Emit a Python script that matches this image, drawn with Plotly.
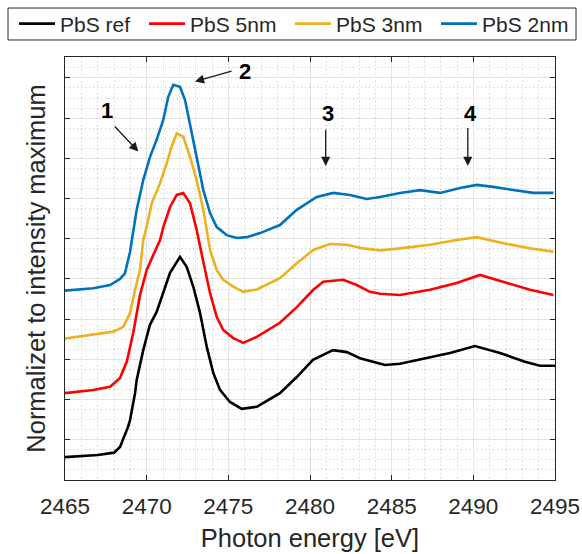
import plotly.graph_objects as go

# Photon energy [eV] and normalized intensity (offset-stacked, arbitrary units)
ref_x = [2465.0, 2467.0, 2468.0, 2468.37, 2468.86, 2468.98, 2469.29, 2469.39, 2469.79, 2470.20,
         2470.61, 2471.02, 2471.43, 2472.04, 2472.45, 2472.86, 2473.27, 2473.68, 2474.08, 2474.49,
         2475.10, 2475.82, 2476.74, 2476.94, 2478.16, 2479.19, 2480.18, 2481.41, 2482.25, 2483.06,
         2484.08, 2484.59, 2485.51, 2486.73, 2488.57, 2490.10, 2491.63, 2493.16, 2494.08, 2495.0]
ref_y = [0.57, 0.62, 0.68, 0.82, 1.32, 1.49, 2.16, 2.49, 3.23, 3.86,
         4.18, 4.65, 5.15, 5.55, 5.30, 4.80, 4.15, 3.31, 2.66, 2.24,
         1.94, 1.77, 1.82, 1.87, 2.16, 2.56, 2.99, 3.23, 3.18, 3.03,
         2.91, 2.86, 2.89, 2.99, 3.16, 3.33, 3.16, 2.94, 2.84, 2.84]

nm5_x = [2465.00, 2466.73, 2467.76, 2468.37, 2468.78, 2469.18, 2469.59, 2470.00, 2470.41, 2470.82,
         2471.02, 2471.43, 2471.84, 2472.24, 2472.65, 2473.06, 2473.47, 2473.88, 2474.29, 2474.69,
         2475.30, 2475.92, 2476.74, 2478.16, 2479.19, 2480.20, 2480.81, 2482.04, 2482.86, 2483.67,
         2484.29, 2485.51, 2487.35, 2488.98, 2490.41, 2491.84, 2493.47, 2494.90]
nm5_y = [2.16, 2.24, 2.32, 2.54, 2.94, 3.66, 4.60, 5.22, 5.60, 5.97,
         6.29, 6.79, 7.09, 7.14, 6.89, 6.22, 5.42, 4.65, 4.05, 3.73,
         3.53, 3.41, 3.56, 3.91, 4.30, 4.73, 4.93, 4.98, 4.85, 4.68,
         4.63, 4.60, 4.73, 4.90, 5.10, 4.93, 4.73, 4.60]

nm3_x = [2465.00, 2466.73, 2467.96, 2468.57, 2468.98, 2469.29, 2469.59, 2469.79, 2470.00, 2470.31,
         2470.82, 2471.23, 2471.53, 2471.84, 2472.24, 2472.65, 2473.06, 2473.47, 2473.88, 2474.29,
         2474.69, 2475.30, 2475.92, 2476.74, 2478.16, 2479.19, 2480.20, 2481.22, 2482.25, 2483.26,
         2484.29, 2485.51, 2487.35, 2488.98, 2490.21, 2491.84, 2493.47, 2494.90]
nm3_y = [3.52, 3.61, 3.69, 3.81, 4.15, 4.73, 5.22, 5.97, 6.30, 6.88,
         7.38, 7.88, 8.29, 8.62, 8.54, 8.04, 7.46, 6.72, 5.72, 5.22,
         4.98, 4.81, 4.68, 4.74, 5.02, 5.39, 5.72, 5.87, 5.85, 5.76,
         5.71, 5.76, 5.85, 5.97, 6.04, 5.89, 5.76, 5.68]

nm2_x = [2465.00, 2466.73, 2467.76, 2468.37, 2468.67, 2468.98, 2469.39, 2469.79, 2470.20, 2470.61,
         2471.02, 2471.32, 2471.63, 2472.04, 2472.35, 2472.65, 2473.06, 2473.47, 2473.88, 2474.29,
         2474.90, 2475.51, 2476.12, 2476.94, 2478.16, 2479.19, 2480.41, 2481.43, 2482.45, 2483.47,
         2484.29, 2485.51, 2486.73, 2487.96, 2489.18, 2490.21, 2491.22, 2492.45, 2493.67, 2494.90]
nm2_y = [4.71, 4.77, 4.85, 5.00, 5.14, 5.67, 6.72, 7.46, 8.03, 8.46,
         8.96, 9.53, 9.83, 9.78, 9.45, 8.88, 8.03, 7.21, 6.64, 6.29,
         6.09, 6.02, 6.04, 6.14, 6.34, 6.72, 7.04, 7.14, 7.09, 6.99,
         7.04, 7.14, 7.21, 7.14, 7.26, 7.34, 7.29, 7.21, 7.14, 7.14]

series_names = ["PbS ref", "PbS 5nm", "PbS 3nm", "PbS 2nm"]
series_x = [ref_x, nm5_x, nm3_x, nm2_x]
series_y = [ref_y, nm5_y, nm3_y, nm2_y]
series_colors = ["#000000", "#ff0000", "#edb120", "#0072bd"]
legend_widths = [79, 95, 95, 86]

x_ticks = [2465, 2470, 2475, 2480, 2485, 2490, 2495]

# peak markers: label, label x/y, arrow tail x/y, arrow head x/y
peak_labels = ["1", "2", "3", "4"]
label_pos = [(2467.55, 9.20), (2476.02, 10.15), (2481.12, 9.12), (2489.80, 9.12)]
arrow_tail = [(2467.96, 8.83), (2475.29, 10.18), (2480.96, 8.75), (2489.66, 8.79)]
arrow_head = [(2469.49, 8.17), (2472.96, 9.91), (2480.96, 7.81), (2489.66, 7.81)]

FONT = "Liberation Sans, Arial, Helvetica, sans-serif"
TXT = "#262626"

fig = go.Figure()
for name, xs, ys, col, lw in zip(series_names, series_x, series_y, series_colors, legend_widths):
    fig.add_trace(go.Scatter(x=xs, y=ys, mode="lines", name=name, legendwidth=lw,
                             line=dict(color=col, width=2.6)))

for lab, (lx, ly), (tx, ty), (hx, hy) in zip(peak_labels, label_pos, arrow_tail, arrow_head):
    fig.add_annotation(x=hx, y=hy, ax=tx, ay=ty, xref="x", yref="y", axref="x", ayref="y",
                       text="", showarrow=True, arrowhead=2, arrowsize=1.4, arrowwidth=1.3,
                       arrowcolor="#1a1a1a", standoff=0, startstandoff=0)
    fig.add_annotation(x=lx, y=ly, xref="x", yref="y", text="<b>" + lab + "</b>",
                       showarrow=False, font=dict(family=FONT, size=22, color="#000000"))

axis_common = dict(
    showline=True, linecolor=TXT, linewidth=1, mirror="allticks",
    ticks="inside", ticklen=5, tickcolor=TXT, tickwidth=1,
    showgrid=True, gridcolor="#e2e2e2", gridwidth=1, zeroline=False,
)

fig.update_xaxes(
    range=[2465, 2495], tickvals=x_ticks, ticktext=[str(v) for v in x_ticks],
    tickfont=dict(family=FONT, size=22.5, color=TXT), ticklabelstandoff=6,
    title=dict(text="Photon energy [eV]", font=dict(family=FONT, size=25.5, color=TXT), standoff=11),
    minor=dict(dtick=1, showgrid=True, gridcolor="#c4c4c4", griddash="1px,3px", gridwidth=1, ticks=""),
    **axis_common,
)
fig.update_yaxes(
    range=[0, 10.52], dtick=1, tick0=0, showticklabels=False,
    title=dict(text="Normalizet to intensity maximum", font=dict(family=FONT, size=25.5, color=TXT), standoff=11),
    minor=dict(dtick=0.25, showgrid=True, gridcolor="#c4c4c4", griddash="1px,3px", gridwidth=1, ticks=""),
    **axis_common,
)

# legend frame
fig.add_shape(type="rect", xref="paper", yref="paper",
              x0=-0.1163, x1=1.0429, y0=1.0402, y1=1.1158,
              line=dict(color=TXT, width=1), fillcolor="white", layer="above")

fig.update_layout(
    width=582, height=554, autosize=False,
    margin=dict(l=65, r=27, t=57, b=74, autoexpand=False),
    paper_bgcolor="white", plot_bgcolor="white",
    showlegend=True,
    legend=dict(orientation="h", x=-0.1041, y=1.078, xanchor="left", yanchor="middle",
                bgcolor="rgba(0,0,0,0)", borderwidth=0,
                font=dict(family=FONT, size=21, color=TXT),
                itemwidth=36, tracegroupgap=0),
)

fig.write_html("out.html")
